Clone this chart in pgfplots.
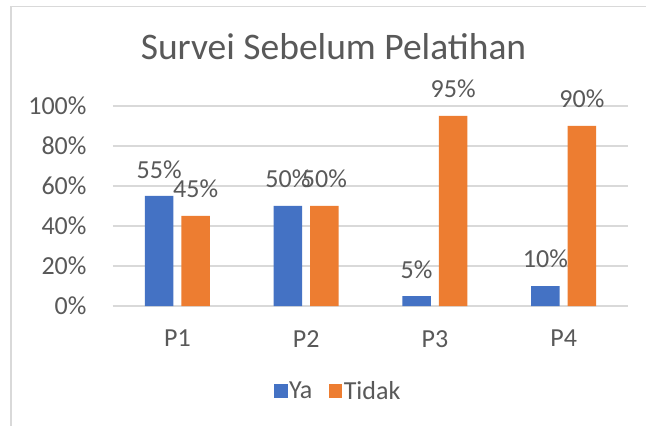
\documentclass[border=0pt]{standalone}
\usepackage{fontspec}
\setmainfont{Carlito}
\usepackage{pgfplots}
\pgfplotsset{compat=1.18}
\definecolor{cblue}{HTML}{4472C4}
\definecolor{corange}{HTML}{ED7D31}
\definecolor{tgray}{HTML}{595959}
\definecolor{ggray}{HTML}{D9D9D9}
\begin{document}
\begin{tikzpicture}[x=1pt,y=1pt]
\useasboundingbox (0,0) rectangle (646,426);
\fill[white] (0,0) rectangle (646,426);
\begin{scope}
\clip (0,0) rectangle (646,426);
\draw[ggray, line width=1.5pt] (11.2,-5) -- (11.2,419.3) -- (700,419.3);
\end{scope}
\node[font=\fontsize{37.5}{42}\selectfont, text=tgray, anchor=base] at (333.5,366.7) {Survei Sebelum Pelatihan};
\begin{axis}[
  at={(113pt,120pt)}, anchor=south west,
  scale only axis, width=515pt, height=200pt,
  xmin=-0.5, xmax=3.5, ymin=0, ymax=100,
  ybar=8pt, bar width=28.5pt,
  xtick={0,1,2,3}, xticklabels={P1,P2,P3,P4},
  ytick={0,20,40,60,80,100},
  yticklabel={\pgfmathprintnumber{\tick}\%},
  /pgf/number format/assume math mode=true,
  axis lines*=left,
  y axis line style={draw=none},
  x axis line style={ggray, line width=1.2pt},
  major tick length=0pt,
  xtick style={draw=none}, ytick style={draw=none},
  ymajorgrids, grid style={ggray, line width=1.2pt},
  tick label style={font=\fontsize{26}{30}\selectfont, text=tgray},
  yticklabel style={inner sep=0pt, anchor=east, xshift=-26.3pt},
  xticklabel style={inner sep=0pt, anchor=north, yshift=-24pt},
  clip=false,
  nodes near coords={\pgfmathprintnumber{\pgfplotspointmeta}\%},
  every node near coord/.append style={anchor=base, inner sep=0pt, yshift=18pt, font=\fontsize{26}{30}\selectfont, text=tgray},
  legend columns=-1,
  legend image code/.code={\fill[#1] (0pt,-6.7pt) rectangle (13.4pt,6.7pt);},
  legend style={draw=none, fill=none, at={(0.4369,-0.425)}, anchor=center,
    font=\fontsize{26}{30}\selectfont, text=tgray,
    /tikz/every even column/.append style={column sep=15pt},
    nodes={inner sep=1.5pt}},
]
\addplot[fill=cblue, draw=none] coordinates {(0,55) (1,50) (2,5) (3,10)};
\addplot[fill=corange, draw=none] coordinates {(0,45) (1,50) (2,95) (3,90)};
\legend{Ya,Tidak}
\end{axis}
\end{tikzpicture}
\end{document}
